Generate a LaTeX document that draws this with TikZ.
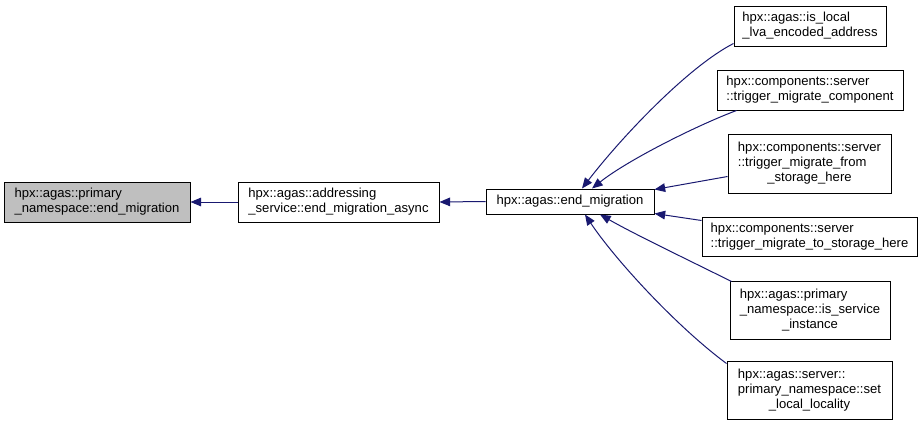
\documentclass[tikz,border=0pt]{standalone}
\usepackage{fontspec}
\setmainfont{Liberation Sans}
\usepackage{tikz}
\usetikzlibrary{arrows.meta, calc}
\definecolor{edgeblue}{RGB}{25,25,112}
\definecolor{boxgray}{RGB}{191,191,191}
\newcommand{\threeline}[3]{\begin{tabular}{@{}l@{}}#1\\#2\\\multicolumn{1}{@{}c@{}}{#3}\end{tabular}}

\begin{document}
\begin{tikzpicture}[x=0.75pt, y=-0.75pt,
    box/.style={draw=black, line width=0.75pt, fill=white, inner sep=0pt, align=left,
                font=\fontsize{9.8}{11.25}\selectfont},
    dims/.style 2 args={minimum width=#1*0.75pt, minimum height=#2*0.75pt},
    edge/.style={draw=edgeblue, line width=0.75pt, -{Triangle[length=8pt,width=6.5pt]}}]
  \useasboundingbox (0,0) rectangle (924,425);
  % callers, right to left
  \node[box, fill=boxgray, dims={186}{40}] (prim) at (97,202)
    {hpx::agas::primary\\\_namespace::end\_migration};
  \node[box, dims={201}{40}] (addr) at (338.5,202)
    {hpx::agas::addressing\\\_service::end\_migration\_async};
  \node[box, dims={168}{25}] (endmig) at (570,201.5) {hpx::agas::end\_migration};
  \node[box, dims={152}{40}] (islocal) at (810,26)
    {hpx::agas::is\_local\\\_lva\_encoded\_address};
  \node[box, dims={186}{40}] (trigcomp) at (810,90)
    {hpx::components::server\\::trigger\_migrate\_component};
  \node[box, dims={163}{59}] (trigfrom) at (809.5,163.5)
    {\threeline{hpx::components::server}{::trigger\_migrate\_from}{\_storage\_here}};
  \node[box, dims={215}{39}] (trigto) at (809.5,236.5)
    {hpx::components::server\\::trigger\_migrate\_to\_storage\_here};
  \node[box, dims={160}{58}] (isservice) at (810,310)
    {\threeline{hpx::agas::primary}{\_namespace::is\_service}{\_instance}};
  \node[box, dims={165}{58}] (setlocal) at (809.5,390)
    {\threeline{hpx::agas::server::}{primary\_namespace::set}{\_local\_locality}};

  \draw[edge] (addr.west) -- (prim.east);
  \draw[edge] (endmig.west) -- (addr.east);
  \draw[edge] ($(islocal.south west)+(0,-3)$) .. controls +(-45,23) and +(40,-52) .. ($(endmig.north)+(12,0)$);
  \draw[edge] ($(trigcomp.south west)+(20,0)$) .. controls +(-40,15) and +(35,-28) .. ($(endmig.north)+(22,0)$);
  \draw[edge] ($(trigfrom.west)+(0,13)$) -- ($(endmig.north east)+(0,1)$);
  \draw[edge] ($(trigto.north west)+(0,4)$) -- ($(endmig.south east)+(0,-1)$);
  \draw[edge] ($(isservice.north west)+(2,1)$) .. controls +(-40,-20) and +(35,20) .. ($(endmig.south)+(30,0)$);
  \draw[edge] ($(setlocal.north west)+(0,3)$) .. controls +(-50,-37) and +(30,45) .. ($(endmig.south)+(15,0)$);
\end{tikzpicture}
\end{document}
